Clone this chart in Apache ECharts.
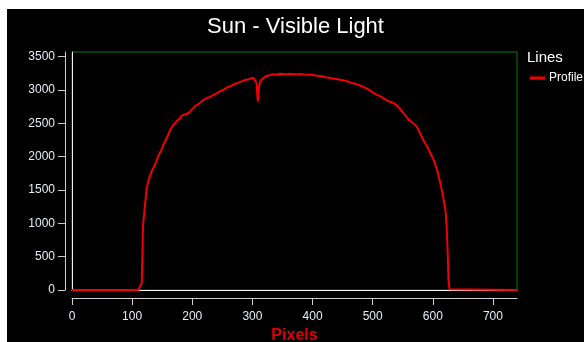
<!DOCTYPE html>
<html>
<head>
<meta charset="utf-8">
<script src="https://cdn.jsdelivr.net/npm/echarts@6/dist/echarts.min.js"></script>
<style>
  html, body { margin: 0; padding: 0; background: #fff; }
  #chart { position: absolute; left: 7px; top: 9px; width: 577px; height: 333px; }
</style>
</head>
<body>
<div id="chart"></div>
<script>
// pixel position along the slit (x) and measured intensity (y)
const pixelX = [
  0, 110, 113, 116, 117, 118, 120, 122, 124, 127, 130, 133, 137, 141, 145, 149,
  152, 156, 160, 163, 166, 169, 172, 176, 180, 183, 186, 190, 194, 197, 201, 205,
  208, 212, 216, 220, 224, 228, 232, 236, 241, 245, 249, 253, 258, 262, 266, 270,
  274, 278, 282, 286, 290, 294, 298, 302, 305, 307, 308, 309, 310, 311, 313, 317,
  321, 325, 330, 335, 340, 346, 352, 358, 363, 368, 374, 380, 386, 392, 396, 402,
  408, 414, 420, 424, 430, 436, 440, 446, 452, 458, 464, 470, 475, 479, 484, 490,
  496, 501, 507, 513, 519, 524, 530, 535, 540, 545, 551, 556, 560, 565, 569, 573,
  578, 584, 590, 596, 602, 607, 611, 615, 618, 621, 623, 624, 625, 626, 628, 630,
  740
]
const intensity = [
  0, 0, 20, 100, 500, 950, 1150, 1330, 1520, 1640, 1720, 1790, 1860, 1950, 2040, 2110,
  2180, 2250, 2330, 2400, 2440, 2480, 2510, 2550, 2580, 2620, 2630, 2640, 2655, 2670, 2720, 2760,
  2780, 2800, 2830, 2860, 2880, 2890, 2910, 2930, 2950, 2975, 2990, 3010, 3040, 3055, 3070, 3090,
  3100, 3115, 3130, 3145, 3155, 3160, 3175, 3180, 3160, 3100, 2950, 2830, 2900, 3050, 3130, 3170,
  3200, 3215, 3225, 3235, 3230, 3245, 3240, 3238, 3245, 3238, 3235, 3240, 3232, 3230, 3228, 3222,
  3215, 3210, 3195, 3188, 3180, 3170, 3165, 3155, 3143, 3130, 3110, 3095, 3080, 3068, 3050, 3020,
  2990, 2960, 2928, 2905, 2870, 2840, 2820, 2803, 2770, 2720, 2653, 2600, 2552, 2520, 2490, 2452,
  2370, 2252, 2160, 2052, 1940, 1802, 1660, 1502, 1350, 1201, 950, 720, 500, 150, 10, 0,
  0
]
const xTicks = [0, 100, 200, 300, 400, 500, 600, 700]
const yTicks = [0, 500, 1000, 1500, 2000, 2500, 3000, 3500]

const font = 'Liberation Sans, Arial, sans-serif'
const axisColor = '#cfcfcf'
const frameColor = '#f2f2f2'
const labelColor = '#e6ecf5'

const chart = echarts.init(document.getElementById('chart'))
chart.setOption({
  animation: false,
  backgroundColor: '#000',
  title: [{
    text: 'Sun - Visible Light',
    left: 'center',
    top: 2,
    textStyle: { color: '#fff', fontSize: 22, fontWeight: 'normal', fontFamily: font }
  }, {
    text: 'Lines',
    left: 515,
    top: 36,
    textStyle: { color: '#fff', fontSize: 15, fontWeight: 'normal', fontFamily: font }
  }],
  legend: {
    left: 518,
    top: 58,
    icon: 'rect',
    itemWidth: 15,
    itemHeight: 3,
    itemGap: 4,
    textStyle: { color: '#fff', fontSize: 12, fontFamily: font, padding: [0, 0, 0, -1] },
    data: ['Profile']
  },
  grid: {
    left: 65,
    top: 43,
    right: 67,
    bottom: 52,
    outerBoundsMode: 'none',
    show: true,
    borderColor: '#0a780a',
    borderWidth: 1,
    backgroundColor: 'transparent'
  },
  xAxis: [{
    type: 'value',
    min: 0,
    max: 740,
    position: 'bottom',
    offset: 8,
    name: 'Pixels',
    nameLocation: 'middle',
    nameGap: 30,
    nameTextStyle: { color: '#e00000', fontSize: 16, fontWeight: 'bold', fontFamily: font },
    axisLine: { show: true, onZero: false, lineStyle: { color: axisColor } },
    axisTick: { show: true, length: 7, customValues: xTicks, lineStyle: { color: axisColor } },
    axisLabel: { customValues: xTicks, margin: 13, color: labelColor, fontSize: 12, fontFamily: font },
    splitLine: { show: false }
  }, {
    type: 'value',
    min: 0,
    max: 740,
    position: 'bottom',
    offset: 0,
    axisLine: { show: true, onZero: false, lineStyle: { color: frameColor } },
    axisTick: { show: false },
    axisLabel: { show: false },
    splitLine: { show: false }
  }],
  yAxis: [{
    type: 'value',
    min: 0,
    max: 3570,
    position: 'left',
    offset: 7,
    axisLine: { show: true, onZero: false, lineStyle: { color: axisColor } },
    axisTick: { show: true, length: 7, customValues: yTicks, lineStyle: { color: axisColor } },
    axisLabel: {
      customValues: yTicks,
      margin: 10,
      color: labelColor,
      fontSize: 12,
      fontFamily: font,
      formatter: v => String(v)
    },
    splitLine: { show: false }
  }, {
    type: 'value',
    min: 0,
    max: 3570,
    position: 'left',
    offset: 0,
    axisLine: { show: true, onZero: false, lineStyle: { color: frameColor } },
    axisTick: { show: false },
    axisLabel: { show: false },
    splitLine: { show: false }
  }],
  series: [{
    name: 'Profile',
    type: 'line',
    xAxisIndex: 0,
    yAxisIndex: 0,
    showSymbol: false,
    lineStyle: { color: '#f00000', width: 2 },
    itemStyle: { color: '#f00000' },
    data: pixelX.map((x, i) => [x, intensity[i]])
  }]
})
</script>
</body>
</html>
